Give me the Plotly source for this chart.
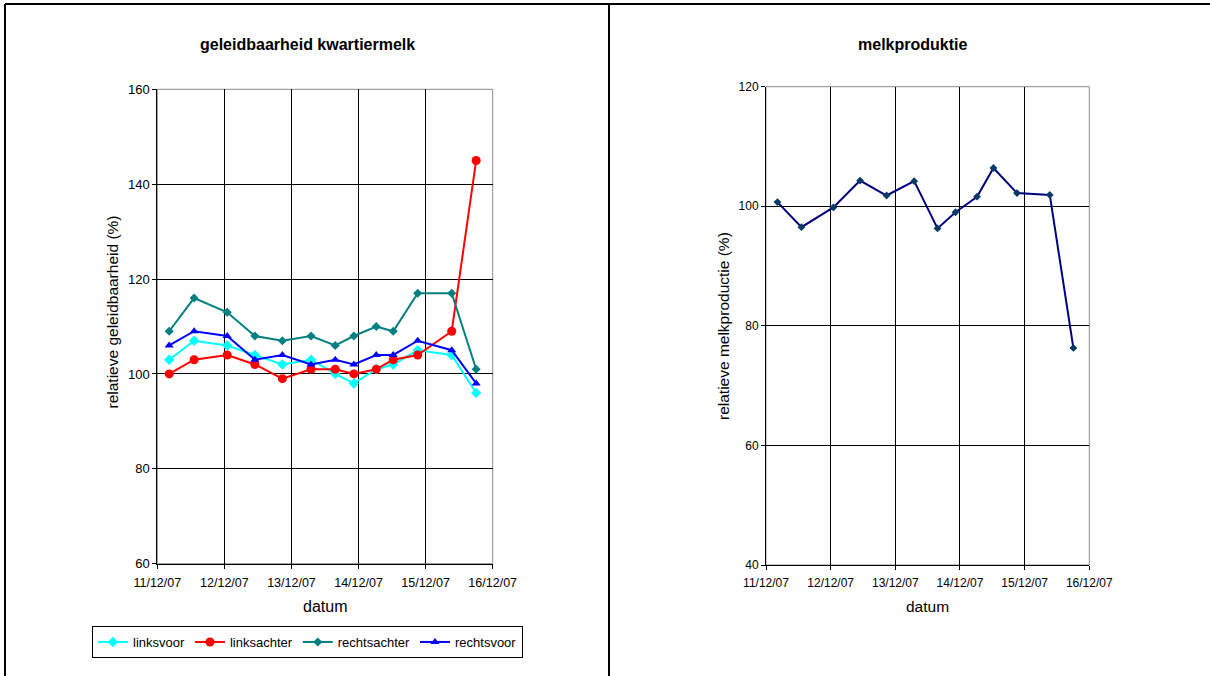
import plotly.graph_objects as go

# ---------------- data ----------------
times = ["2007-12-11 04:15", "2007-12-11 13:10", "2007-12-12 01:00", "2007-12-12 10:55",
         "2007-12-12 20:45", "2007-12-13 07:00", "2007-12-13 15:40", "2007-12-13 22:20",
         "2007-12-14 06:20", "2007-12-14 12:25", "2007-12-14 21:10", "2007-12-15 09:20",
         "2007-12-15 18:05"]

linksvoor = [103, 107, 106, 104, 102, 103, 100, 98, 101, 102, 105, 104, 96]
linksachter = [100, 103, 104, 102, 99, 101, 101, 100, 101, 103, 104, 109, 145]
rechtsachter = [109, 116, 113, 108, 107, 108, 106, 108, 110, 109, 117, 117, 101]
rechtsvoor = [106, 109, 108, 103, 104, 102, 103, 102, 104, 104, 107, 105, 98]

melkproductie = [100.7, 96.5, 99.8, 104.3, 101.8, 104.2, 96.3, 99.0, 101.6, 106.4, 102.2, 101.9, 76.3]

x_range = ["2007-12-11", "2007-12-16"]
left_y_range = [60, 160]
right_y_range = [40, 120]

FONT = "Arial, Liberation Sans, sans-serif"
W, H = 1210, 676

fig = go.Figure()

series = [
    ("linksvoor", linksvoor, "#00FFFF", "diamond", 8),
    ("linksachter", linksachter, "#FF0000", "circle", 9),
    ("rechtsachter", rechtsachter, "#008080", "diamond", 7),
    ("rechtsvoor", rechtsvoor, "#0000FF", "triangle-up", 8),
]
for name, vals, col, sym, sz in series:
    fig.add_trace(go.Scatter(x=times, y=vals, name=name, mode="lines+markers",
                             line=dict(color=col, width=2),
                             marker=dict(color=col, symbol=sym, size=sz),
                             xaxis="x", yaxis="y"))

fig.add_trace(go.Scatter(x=times, y=melkproductie, name="melkproductie", mode="lines+markers",
                         line=dict(color="#000080", width=2),
                         marker=dict(color="#0A3A66", symbol="diamond", size=6),
                         xaxis="x2", yaxis="y2", showlegend=False))

def px_x(p):
    return p / W

def px_y(p):
    return 1 - p / H

axis_common = dict(showline=True, linecolor="black", linewidth=1, ticks="outside",
                   ticklen=4, tickcolor="black", showgrid=True, gridcolor="#000000",
                   gridwidth=1, zeroline=False, color="black", automargin=False)

fig.update_layout(
    template="none",
    width=W, height=H, autosize=False, margin=dict(l=0, r=0, t=0, b=0, pad=0),
    paper_bgcolor="white", plot_bgcolor="white",
    font=dict(family=FONT, color="black"),
    xaxis=dict(domain=[px_x(157.3), px_x(492.7)], type="date", range=x_range,
               dtick=86400000, tickformat="%d/%m/%y", anchor="y", ticklabelstandoff=3,
               tickfont=dict(size=12.5), **axis_common),
    yaxis=dict(domain=[px_y(563.7), px_y(89.3)], range=left_y_range, dtick=20, anchor="x",
               tickfont=dict(size=13), **axis_common),
    xaxis2=dict(domain=[px_x(766), px_x(1089.3)], type="date", range=x_range,
                dtick=86400000, tickformat="%d/%m/%y", anchor="y2", ticklabelstandoff=3,
                tickfont=dict(size=12), **axis_common),
    yaxis2=dict(domain=[px_y(565), px_y(86.7)], range=right_y_range, dtick=20, anchor="x2",
                tickfont=dict(size=12), **axis_common),
    legend=dict(orientation="h", x=px_x(307.5), y=px_y(626), xanchor="center", yanchor="top",
                bordercolor="black", borderwidth=1, font=dict(size=13), itemwidth=30,
                bgcolor="white", tracegroupgap=0),
    showlegend=True,
)

annotations = [
    dict(text="<b>geleidbaarheid kwartiermelk</b>", x=px_x(307.5), y=px_y(45), font=dict(size=16)),
    dict(text="<b>melkproduktie</b>", x=px_x(912), y=px_y(45), font=dict(size=16)),
    dict(text="datum", x=px_x(325), y=px_y(606.5), font=dict(size=16)),
    dict(text="datum", x=px_x(927), y=px_y(606), font=dict(size=15.5)),
    dict(text="relatieve geleidbaarheid (%)", x=px_x(112), y=px_y(312.5), textangle=-90,
         font=dict(size=15.5)),
    dict(text="relatieve melkproductie (%)", x=px_x(723), y=px_y(326), textangle=-90,
         font=dict(size=15.5)),
]
for a in annotations:
    a.update(xref="paper", yref="paper", showarrow=False, xanchor="center", yanchor="middle")
fig.update_layout(annotations=annotations)

shapes = [
    # plot area borders (grey)
    dict(type="rect", xref="x domain", yref="y domain", x0=0, x1=1, y0=0, y1=1,
         line=dict(color="#8c8c8c", width=1), layer="below"),
    dict(type="rect", xref="x2 domain", yref="y2 domain", x0=0, x1=1, y0=0, y1=1,
         line=dict(color="#8c8c8c", width=1), layer="below"),
    # outer frame lines
    dict(type="line", xref="paper", yref="paper", x0=px_x(5), x1=1, y0=px_y(4), y1=px_y(4),
         line=dict(color="black", width=2)),
    dict(type="line", xref="paper", yref="paper", x0=px_x(5), x1=px_x(5), y0=0, y1=px_y(4),
         line=dict(color="black", width=2)),
    dict(type="line", xref="paper", yref="paper", x0=px_x(609), x1=px_x(609), y0=0, y1=px_y(4),
         line=dict(color="black", width=2)),
]
fig.update_layout(shapes=shapes)

fig.write_html("out.html", config={"displayModeBar": False},
               post_script="document.body.style.margin='0';")
